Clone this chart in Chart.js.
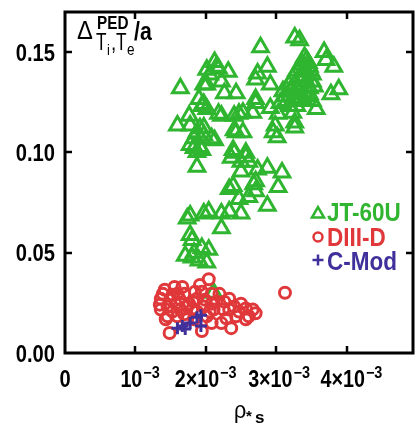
<!DOCTYPE html>
<html>
<head>
<meta charset="utf-8">
<script src="https://cdn.jsdelivr.net/npm/chart.js@4.4.0/dist/chart.umd.min.js"></script>
<style>
  html, body { margin: 0; padding: 0; background: #fff; overflow: hidden; }
  canvas { display: block; }
</style>
</head>
<body>
<canvas id="chart" width="425" height="430"></canvas>
<script>
// rho_*s (x) and Delta^PED/a (y)
const jt60uRho = [
  2.778e-3, 3.264e-3, 3.333e-3, 3.681e-3, 3.708e-3, 3.819e-3, 3.889e-3, 3.778e-3, 2.875e-3, 2.736e-3,
  2.708e-3, 2.917e-3, 3.431e-3, 3.472e-3, 3.403e-3, 3.514e-3, 3.333e-3, 3.431e-3, 3.264e-3, 3.542e-3,
  3.194e-3, 3.333e-3, 3.472e-3, 3.125e-3, 3.264e-3, 3.403e-3, 3.056e-3, 3.194e-3, 3.569e-3, 3.431e-3,
  3.306e-3, 3.514e-3, 2.125e-3, 2.181e-3, 2.319e-3, 2.056e-3, 2.014e-3, 2.222e-3, 2.264e-3, 2.431e-3,
  1.903e-3, 1.972e-3, 2.014e-3, 2.181e-3, 2.472e-3, 2.667e-3, 2.708e-3, 2.917e-3, 3.028e-3, 3.236e-3,
  2.708e-3, 2.528e-3, 3.264e-3, 2.986e-3, 2.958e-3, 3.264e-3, 3.014e-3, 1.917e-3, 1.972e-3, 2.083e-3,
  1.917e-3, 2.431e-3, 2.528e-3, 2.403e-3, 2.361e-3, 2.569e-3, 2.611e-3, 1.875e-3, 2.500e-3, 2.736e-3,
  2.875e-3, 3.083e-3, 2.389e-3, 2.333e-3, 2.681e-3, 2.708e-3, 3.028e-3, 2.472e-3, 2.611e-3, 2.875e-3,
  2.042e-3, 2.222e-3, 2.333e-3, 2.500e-3, 1.639e-3, 1.972e-3, 2.014e-3, 1.944e-3, 1.764e-3, 1.597e-3,
  1.875e-3, 1.833e-3, 1.778e-3, 1.875e-3, 1.778e-3, 1.972e-3, 2.153e-3, 2.222e-3, 2.403e-3, 1.778e-3,
  1.972e-3, 2.125e-3, 1.944e-3, 1.833e-3, 2.403e-3, 2.389e-3, 2.569e-3, 2.500e-3, 2.708e-3, 2.222e-3,
  1.778e-3, 1.806e-3, 1.708e-3, 1.833e-3, 1.944e-3, 2.042e-3, 1.903e-3, 2.014e-3, 1.806e-3, 1.736e-3,
  2.111e-3, 3.403e-3, 3.458e-3, 3.375e-3, 3.292e-3, 3.486e-3, 3.236e-3, 3.375e-3, 3.181e-3, 3.472e-3,
  3.097e-3, 3.264e-3, 3.347e-3, 3.153e-3, 3.514e-3, 3.292e-3
];
const jt60uDelta = [
  0.1524, 0.1573, 0.1559, 0.1500, 0.1461, 0.1427, 0.1315, 0.1290, 0.1427, 0.1393,
  0.1363, 0.1339, 0.1461, 0.1427, 0.1402, 0.1388, 0.1378, 0.1354, 0.1339, 0.1329,
  0.1305, 0.1305, 0.1290, 0.1280, 0.1271, 0.1256, 0.1246, 0.1232, 0.1217, 0.1280,
  0.1329, 0.1354, 0.1451, 0.1417, 0.1402, 0.1388, 0.1339, 0.1354, 0.1295, 0.1295,
  0.1266, 0.1241, 0.1217, 0.1193, 0.1193, 0.1198, 0.1246, 0.1222, 0.1193, 0.1198,
  0.1266, 0.1198, 0.1149, 0.1134, 0.1100, 0.1124, 0.1076, 0.1120, 0.1085, 0.1071,
  0.1027, 0.1100, 0.1100, 0.0998, 0.0973, 0.0978, 0.0954, 0.0929, 0.0905, 0.0915,
  0.0924, 0.0900, 0.0832, 0.0817, 0.0841, 0.0807, 0.0827, 0.0768, 0.0778, 0.0734,
  0.0705, 0.0695, 0.0705, 0.0695, 0.1320, 0.1339, 0.1412, 0.1232, 0.1183, 0.1134,
  0.1100, 0.1071, 0.1037, 0.1002, 0.0685, 0.0695, 0.1427, 0.1183, 0.1183, 0.1134,
  0.1124, 0.1061, 0.1012, 0.1022, 0.1110, 0.1012, 0.0998, 0.0954, 0.0856, 0.0622,
  0.0588, 0.0563, 0.0485, 0.0500, 0.0524, 0.0515, 0.0461, 0.0451, 0.0476, 0.0671,
  0.0300, 0.1476, 0.1446, 0.1437, 0.1407, 0.1407, 0.1368, 0.1368, 0.1339, 0.1320,
  0.1305, 0.1290, 0.1271, 0.1256, 0.1256, 0.1232
];
const diiidRho = [
  1.417e-3, 1.556e-3, 1.361e-3, 1.347e-3, 1.361e-3, 1.458e-3, 1.431e-3, 1.625e-3, 1.639e-3, 1.694e-3,
  1.764e-3, 1.806e-3, 1.875e-3, 1.917e-3, 2.042e-3, 1.944e-3, 1.986e-3, 1.833e-3, 1.486e-3, 1.944e-3,
  2.014e-3, 1.458e-3, 1.500e-3, 1.694e-3, 1.569e-3, 1.875e-3, 2.194e-3, 2.333e-3, 2.083e-3, 2.111e-3,
  2.250e-3, 2.333e-3, 2.472e-3, 2.569e-3, 2.708e-3, 2.611e-3, 2.569e-3, 2.361e-3, 2.222e-3, 2.083e-3,
  3.125e-3, 2.292e-3, 2.431e-3, 2.083e-3, 2.153e-3, 2.500e-3, 2.403e-3, 1.528e-3, 1.736e-3, 1.597e-3,
  2.264e-3, 1.972e-3, 2.667e-3, 1.847e-3, 1.389e-3, 1.528e-3, 1.736e-3, 1.597e-3, 2.056e-3, 1.819e-3,
  1.667e-3
];
const diiidDelta = [
  0.0315, 0.0329, 0.0271, 0.0241, 0.0217, 0.0183, 0.0168, 0.0271, 0.0217, 0.0193,
  0.0246, 0.0217, 0.0271, 0.0339, 0.0368, 0.0305, 0.0266, 0.0168, 0.0100, 0.0110,
  0.0183, 0.0232, 0.0266, 0.0295, 0.0246, 0.0207, 0.0295, 0.0271, 0.0246, 0.0217,
  0.0217, 0.0217, 0.0207, 0.0222, 0.0198, 0.0183, 0.0168, 0.0124, 0.0149, 0.0149,
  0.0300, 0.0173, 0.0183, 0.0295, 0.0256, 0.0246, 0.0232, 0.0207, 0.0168, 0.0295,
  0.0256, 0.0232, 0.0217, 0.0305, 0.0295, 0.0290, 0.0232, 0.0183, 0.0207, 0.0256,
  0.0329
];
const cmodRho = [1.597e-3, 1.708e-3, 1.778e-3, 1.875e-3, 1.931e-3, 1.931e-3, 1.667e-3];
const cmodDelta = [0.0124, 0.0120, 0.0149, 0.0178, 0.0188, 0.0134, 0.0134];

const xTicks = [1e-3, 2e-3, 3e-3, 4e-3];
const xTickPrefix = ['10', '2\u00d710', '3\u00d710', '4\u00d710'];
const yTicks = [0, 0.05, 0.10, 0.15];
const yTickLabels = ['0.00', '0.05', '0.10', '0.15'];
const seriesNames = ['JT-60U', 'DIII-D', 'C-Mod'];

const GREEN = '#2fb52f';
const RED = '#e0383a';
const PURPLE = '#40309c';
const FONT = '"Liberation Sans", Arial, sans-serif';

const toPoints = (xs, ys) => xs.map((x, i) => ({ x: x, y: ys[i] }));

// draws horizontally condensed text, returns its width
function squeeze(ctx, str, x, y, font, sx, align) {
  ctx.font = font;
  const w = ctx.measureText(str).width * sx;
  let x0 = x;
  if (align === 'right') x0 = x - w;
  else if (align === 'center') x0 = x - w / 2;
  ctx.save();
  ctx.translate(x0, y);
  ctx.scale(sx, 1);
  ctx.textAlign = 'left';
  ctx.fillText(str, 0, 0);
  ctx.restore();
  return w;
}

// axes frame, inward ticks, labels, titles and legend
const framePlugin = {
  id: 'frame',
  afterDraw(chart) {
    const ctx = chart.ctx;
    const a = chart.chartArea;
    const xs = chart.scales.x, ys = chart.scales.y;
    ctx.save();
    ctx.strokeStyle = '#000';
    ctx.lineWidth = 3;
    ctx.strokeRect(a.left, a.top, a.right - a.left, a.bottom - a.top);

    ctx.lineWidth = 2.5;
    ctx.beginPath();
    xTicks.forEach(v => {
      const px = Math.round(xs.getPixelForValue(v));
      ctx.moveTo(px, a.bottom); ctx.lineTo(px, a.bottom - 7);
      ctx.moveTo(px, a.top); ctx.lineTo(px, a.top + 7);
    });
    yTicks.slice(1).forEach(v => {
      const py = Math.round(ys.getPixelForValue(v));
      ctx.moveTo(a.left, py); ctx.lineTo(a.left + 7, py);
      ctx.moveTo(a.right, py); ctx.lineTo(a.right - 7, py);
    });
    ctx.stroke();

    ctx.fillStyle = '#000';
    ctx.textBaseline = 'alphabetic';

    // y tick labels
    yTicks.forEach((v, i) => {
      squeeze(ctx, yTickLabels[i], a.left - 10, ys.getPixelForValue(v) + 8.5, 'bold 24px ' + FONT, 0.84, 'right');
    });

    // x tick labels
    const base = 387;
    squeeze(ctx, '0', xs.getPixelForValue(0), base, 'bold 24px ' + FONT, 0.84, 'center');
    const leftOffsets = [-15, -31, -28, -26];
    xTicks.forEach((v, i) => {
      const x0 = xs.getPixelForValue(v) + leftOffsets[i];
      const w1 = squeeze(ctx, xTickPrefix[i], x0, base, 'bold 24px ' + FONT, 0.82, 'left');
      squeeze(ctx, '\u22123', x0 + w1 + 1, base - 9, 'bold 16px ' + FONT, 0.9, 'left');
    });

    // x title: rho_*s
    squeeze(ctx, '\u03c1', 234, 418, '24px ' + FONT, 0.9, 'left');
    squeeze(ctx, '*', 246, 421, 'bold 15px ' + FONT, 1, 'left');
    squeeze(ctx, 's', 255, 423, 'bold 17px ' + FONT, 1, 'left');

    // y title: Delta^PED_{Ti,Te}/a
    squeeze(ctx, '\u0394', 77, 39, '25px ' + FONT, 0.95, 'left');
    squeeze(ctx, 'PED', 97, 29, 'bold 18px ' + FONT, 0.85, 'left');
    squeeze(ctx, 'T', 96, 50, '23px ' + FONT, 0.75, 'left');
    squeeze(ctx, 'i', 107, 55, '15px ' + FONT, 0.85, 'left');
    squeeze(ctx, ',', 111, 50, '22px ' + FONT, 0.85, 'left');
    squeeze(ctx, 'T', 116, 50, '23px ' + FONT, 0.75, 'left');
    squeeze(ctx, 'e', 127, 55, '16px ' + FONT, 0.85, 'left');
    squeeze(ctx, '/a', 134, 40, 'bold 25px ' + FONT, 0.85, 'left');

    // legend
    const rows = [
      { y: 213, c: GREEN, style: 'triangle', r: 7, my: 214 },
      { y: 238, c: RED, style: 'circle', r: 4.5, my: 237 },
      { y: 262, c: PURPLE, style: 'cross', r: 5.5, my: 260 }
    ];
    rows.forEach((row, i) => {
      ctx.strokeStyle = row.c;
      ctx.fillStyle = 'rgba(0,0,0,0)';
      ctx.lineWidth = 2.5;
      Chart.helpers.drawPoint(ctx, { pointStyle: row.style, radius: row.r, borderWidth: 2.5, rotation: 0 }, 318, row.my);
      ctx.fillStyle = row.c;
      ctx.textBaseline = 'middle';
      squeeze(ctx, seriesNames[i], 327, row.y + 1, 'bold 25px ' + FONT, 0.9, 'left');
    });
    ctx.restore();
  }
};

new Chart(document.getElementById('chart'), {
  type: 'scatter',
  data: {
    datasets: [
      {
        label: seriesNames[2],
        data: toPoints(cmodRho, cmodDelta),
        pointStyle: 'cross',
        pointRadius: 6,
        borderColor: PURPLE,
        backgroundColor: 'transparent',
        pointBorderWidth: 3,
        order: 1
      },
      {
        label: seriesNames[1],
        data: toPoints(diiidRho, diiidDelta),
        pointStyle: 'circle',
        pointRadius: 5.5,
        borderColor: RED,
        backgroundColor: 'transparent',
        pointBorderWidth: 3,
        order: 2
      },
      {
        label: seriesNames[0],
        data: toPoints(jt60uRho, jt60uDelta),
        pointStyle: 'triangle',
        pointRadius: 9,
        borderColor: GREEN,
        backgroundColor: 'transparent',
        pointBorderWidth: 3,
        order: 3
      }
    ]
  },
  options: {
    responsive: false,
    animation: false,
    devicePixelRatio: 1,
    layout: { padding: { left: 65, top: 4, right: 4, bottom: 77 } },
    plugins: { legend: { display: false }, tooltip: { enabled: false } },
    scales: {
      x: { type: 'linear', min: 0, max: 4.944e-3, display: false },
      y: { type: 'linear', min: 0, max: 0.17, display: false }
    }
  },
  plugins: [framePlugin]
});
</script>
</body>
</html>
